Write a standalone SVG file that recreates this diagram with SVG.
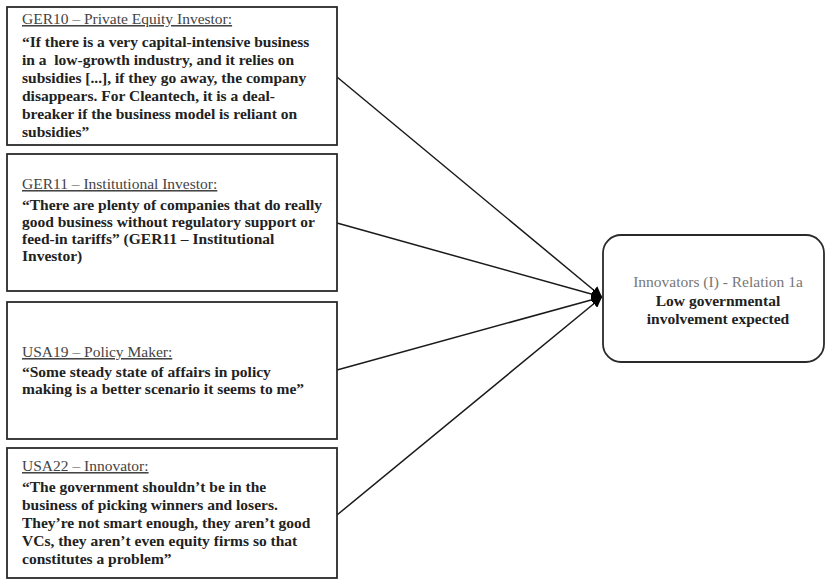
<svg xmlns="http://www.w3.org/2000/svg" width="826" height="585" viewBox="0 0 826 585">
<defs>
<style>
.box{fill:#fff;stroke:#2a2a2a;stroke-width:1.8}
.hd{font-family:"Liberation Serif","Times New Roman",serif;font-size:15.5px;fill:#444;text-decoration:underline}
.q{font-family:"Liberation Serif","Times New Roman",serif;font-size:15.5px;font-weight:bold;fill:#222}
.gr{font-family:"Liberation Serif","Times New Roman",serif;font-size:15.5px;fill:#777}
.ln{stroke:#1a1a1a;stroke-width:1.5;fill:none}
</style>
<marker id="ah" viewBox="0 0 10 10" refX="10" refY="5" markerWidth="7" markerHeight="7" orient="auto" markerUnits="strokeWidth">
<path d="M0,0 L10,5 L0,10 z" fill="#000"/>
</marker>
</defs>
<rect width="826" height="585" fill="#fff"/>
<g id="connectors">
<line class="ln" x1="337" y1="77" x2="602" y2="297" marker-end="url(#ah)"/>
<line class="ln" x1="337" y1="223" x2="602" y2="297" marker-end="url(#ah)"/>
<line class="ln" x1="337" y1="370" x2="602" y2="297" marker-end="url(#ah)"/>
<line class="ln" x1="337" y1="515" x2="602" y2="297" marker-end="url(#ah)"/>
</g>
<g id="ger10">
<rect class="box" x="7" y="7" width="330" height="138"/>
<text class="hd" x="22" y="24">GER10 – Private Equity Investor:</text>
<text class="q" x="22" y="47">“If there is a very capital-intensive business</text>
<text class="q" x="22" y="65" xml:space="preserve">in a  low-growth industry, and it relies on</text>
<text class="q" x="22" y="83">subsidies [...], if they go away, the company</text>
<text class="q" x="22" y="101">disappears. For Cleantech, it is a deal-</text>
<text class="q" x="22" y="119">breaker if the business model is reliant on</text>
<text class="q" x="22" y="137">subsidies”</text>
</g>
<g id="ger11">
<rect class="box" x="7" y="154" width="330" height="137"/>
<text class="hd" x="22" y="189">GER11 – Institutional Investor:</text>
<text class="q" x="22" y="210">“There are plenty of companies that do really</text>
<text class="q" x="22" y="227">good business without regulatory support or</text>
<text class="q" x="22" y="244">feed-in tariffs” (GER11 – Institutional</text>
<text class="q" x="22" y="261">Investor)</text>
</g>
<g id="usa19">
<rect class="box" x="7" y="302" width="330" height="137"/>
<text class="hd" x="22" y="357">USA19 – Policy Maker:</text>
<text class="q" x="22" y="377">“Some steady state of affairs in policy</text>
<text class="q" x="22" y="394">making is a better scenario it seems to me”</text>
</g>
<g id="usa22">
<rect class="box" x="7" y="448" width="330" height="130"/>
<text class="hd" x="22" y="471">USA22 – Innovator:</text>
<text class="q" x="22" y="492">“The government shouldn’t be in the</text>
<text class="q" x="22" y="510">business of picking winners and losers.</text>
<text class="q" x="22" y="528">They’re not smart enough, they aren’t good</text>
<text class="q" x="22" y="546">VCs, they aren’t even equity firms so that</text>
<text class="q" x="22" y="564">constitutes a problem”</text>
</g>
<g id="innovators">
<rect class="box" x="603" y="235" width="221" height="127" rx="18" ry="18"/>
<text class="gr" x="718" y="287" text-anchor="middle">Innovators (I) - Relation 1a</text>
<text class="q" x="718" y="306" text-anchor="middle">Low governmental</text>
<text class="q" x="718" y="324" text-anchor="middle">involvement expected</text>
</g>
</svg>
